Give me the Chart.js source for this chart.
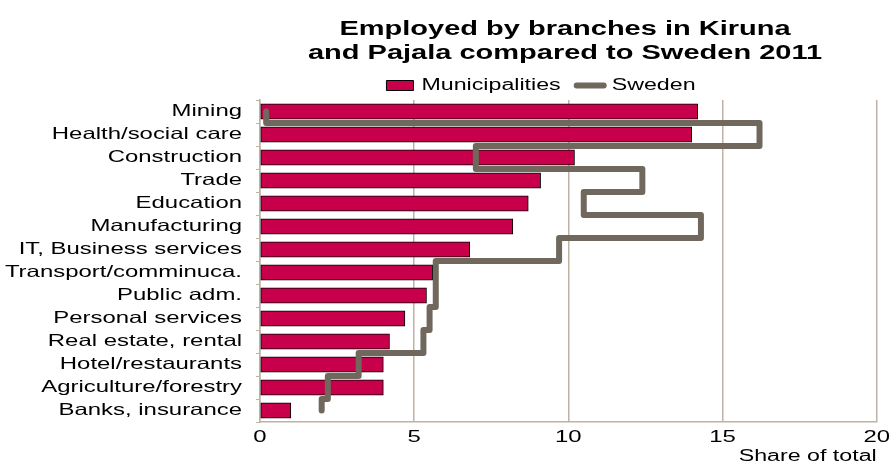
<!DOCTYPE html>
<html>
<head>
<meta charset="utf-8">
<script src="https://cdn.jsdelivr.net/npm/chart.js@4.4.1/dist/chart.umd.min.js"></script>
<style>
  html, body { margin: 0; padding: 0; background: #ffffff; }
  #wrap { width: 896px; height: 462px; }
</style>
</head>
<body>
<div id="wrap"><canvas id="c" width="896" height="462"></canvas></div>
<script>
// ---- data ----
const categories = [
  'Mining', 'Health/social care', 'Construction', 'Trade', 'Education',
  'Manufacturing', 'IT, Business services', 'Transport/comminuca.',
  'Public adm.', 'Personal services', 'Real estate, rental',
  'Hotel/restaurants', 'Agriculture/forestry', 'Banks, insurance'
];
const municipalities = [14.2, 14.0, 10.2, 9.1, 8.7, 8.2, 6.8, 5.6, 5.4, 4.7, 4.2, 4.0, 4.0, 1.0];
const sweden = [0.2, 16.2, 7.0, 12.4, 10.5, 14.3, 9.7, 5.7, 5.7, 5.5, 5.3, 3.2, 2.2, 2.0];
const xTickValues = [0, 5, 10, 15, 20];
const titleLines = ['Employed by branches in Kiruna', 'and Pajala compared to Sweden 2011'];
const seriesNames = ['Municipalities', 'Sweden'];
const xAxisTitle = 'Share of total';

// ---- styling ----
const FONT = "'Liberation Sans', Arial, Helvetica, sans-serif";
const BAR_COLOR = '#c8004b';
const LINE_COLOR = '#70685c';
const GRID_COLOR = '#bdb2a3';
const TEXT_STRETCH = 1.45; // the reference text is drawn horizontally widened

// Sweden step path: one vertical run per category band, horizontal jumps at band boundaries
const swedenPath = sweden.flatMap((v, i) => [
  { x: v, y: i === 0 ? i : i - 0.5 },
  { x: v, y: i === sweden.length - 1 ? i : i + 0.5 }
]);

const canvas = document.getElementById('c');
const ctx = canvas.getContext('2d');

// widen text horizontally (keeps it real text, drawn by Chart.js)
(function stretchText(c, sx) {
  const fill = c.fillText.bind(c);
  const measure = c.measureText.bind(c);
  c.fillText = function (t, x, y, mw) {
    c.save();
    c.translate(x, y);
    c.scale(sx, 1);
    if (mw === undefined || mw === null) fill(t, 0, 0);
    else fill(t, 0, 0, mw / sx);
    c.restore();
  };
  c.measureText = function (t) {
    const m = measure(t);
    return {
      width: m.width * sx,
      actualBoundingBoxLeft: m.actualBoundingBoxLeft * sx,
      actualBoundingBoxRight: m.actualBoundingBoxRight * sx,
      actualBoundingBoxAscent: m.actualBoundingBoxAscent,
      actualBoundingBoxDescent: m.actualBoundingBoxDescent,
      fontBoundingBoxAscent: m.fontBoundingBoxAscent,
      fontBoundingBoxDescent: m.fontBoundingBoxDescent
    };
  };
})(ctx, TEXT_STRETCH);

// title/legend are centred over the plot region in the reference
const boxShift = {
  id: 'boxShift',
  afterLayout(chart) {
    const t = chart.titleBlock;
    if (t) { t.left = 234; t.right = chart.width; }
    const l = chart.legend;
    if (l) { l.left = 186; l.right = chart.width; l.top += 3.5; l.bottom += 3.5; }
  }
};

Chart.defaults.color = '#000';
Chart.defaults.font.family = FONT;

new Chart(ctx, {
  type: 'bar',
  data: {
    labels: categories,
    datasets: [
      {
        type: 'bar',
        label: seriesNames[0],
        data: municipalities,
        backgroundColor: BAR_COLOR,
        borderColor: '#000',
        borderWidth: 1,
        borderSkipped: false,
        grouped: false,
        barThickness: 15.5,
        xAxisID: 'x',
        yAxisID: 'y',
        order: 1
      },
      {
        type: 'line',
        label: seriesNames[1],
        data: swedenPath,
        indexAxis: 'y',
        xAxisID: 'x',
        yAxisID: 'y2',
        borderColor: LINE_COLOR,
        backgroundColor: LINE_COLOR,
        borderWidth: 6,
        borderCapStyle: 'round',
        borderJoinStyle: 'round',
        pointRadius: 0,
        pointHoverRadius: 0,
        tension: 0,
        fill: false,
        order: 0
      }
    ]
  },
  options: {
    indexAxis: 'y',
    responsive: false,
    animation: false,
    events: [],
    layout: { padding: { left: 0, right: 12, top: 0, bottom: 0 } },
    scales: {
      x: {
        type: 'linear',
        position: 'bottom',
        min: xTickValues[0],
        max: xTickValues[xTickValues.length - 1],
        afterBuildTicks(scale) { scale.ticks = xTickValues.map(v => ({ value: v })); },
        ticks: { color: '#000', font: { family: FONT, size: 16.5 }, padding: 6, autoSkip: false, maxRotation: 0 },
        grid: { color: GRID_COLOR, lineWidth: 1.5, drawTicks: false },
        border: { color: GRID_COLOR, width: 1.5 },
        title: {
          display: true, text: xAxisTitle, align: 'end', color: '#000',
          font: { family: FONT, size: 16 }, padding: { top: 0, bottom: -4 }
        },
        afterFit(scale) { scale.height = 40; }
      },
      y: {
        type: 'category',
        position: 'left',
        offset: true,
        ticks: { color: '#000', font: { family: FONT, size: 16.5 }, padding: 14, autoSkip: false },
        grid: { offset: true, drawOnChartArea: false, drawTicks: true, tickLength: 4, color: GRID_COLOR, lineWidth: 1 },
        border: { color: GRID_COLOR, width: 1.5 },
        afterFit(scale) { scale.width = 260; }
      },
      y2: {
        type: 'linear',
        display: false,
        offset: false,
        reverse: true,
        min: -0.5,
        max: categories.length - 0.5,
        grace: 0
      }
    },
    plugins: {
      title: {
        display: true,
        text: titleLines,
        color: '#000',
        font: { family: FONT, size: 20, weight: 'bold', lineHeight: 1.17 },
        padding: { top: 18, bottom: -6.8 }
      },
      legend: {
        display: true,
        position: 'top',
        align: 'center',
        labels: {
          usePointStyle: true,
          pointStyleWidth: 27,
          boxHeight: 10,
          padding: 16,
          color: '#000',
          font: { family: FONT, size: 16 },
          generateLabels(chart) {
            return chart.data.datasets.map((ds, i) => ({
              text: ds.label,
              datasetIndex: i,
              fontColor: '#000',
              hidden: false,
              fillStyle: ds.backgroundColor,
              strokeStyle: ds.borderColor,
              lineWidth: ds.borderWidth,
              lineCap: ds.type === 'line' ? 'round' : 'butt',
              pointStyle: ds.type === 'line' ? 'line' : 'rect'
            }));
          }
        }
      },
      tooltip: { enabled: false }
    }
  },
  plugins: [boxShift]
});
</script>
</body>
</html>
